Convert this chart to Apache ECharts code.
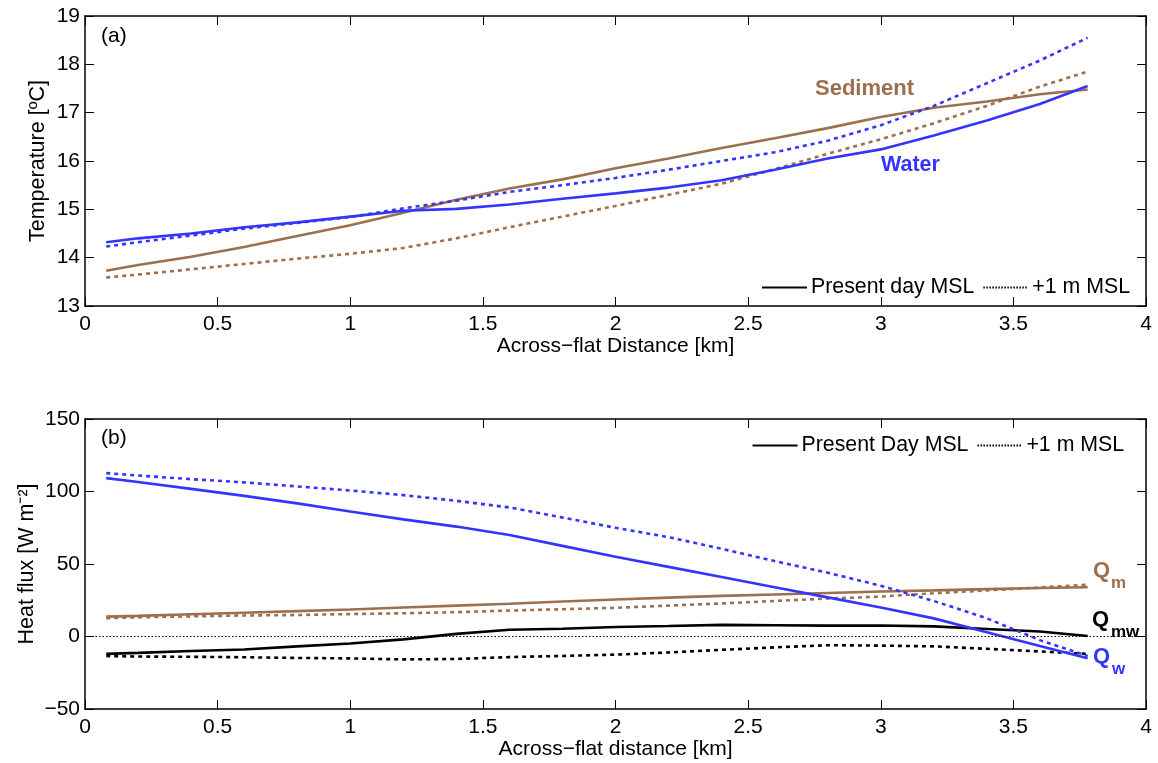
<!DOCTYPE html>
<html><head><meta charset="utf-8">
<script src="https://cdn.jsdelivr.net/npm/echarts@6/dist/echarts.min.js"></script>
<style>html,body{margin:0;padding:0;background:#fff}#c{width:1158px;height:763px}</style>
</head><body><div id="c"></div>
<script>
const dist = [0.08,0.2,0.4,0.6,0.8,1.0,1.2,1.4,1.6,1.8,2.0,2.2,2.4,2.6,2.8,3.0,3.2,3.4,3.6,3.78];
// Panel (a) temperatures [°C]
const waterPresent = [14.32,14.4,14.5,14.63,14.73,14.85,14.97,15.01,15.1,15.22,15.33,15.45,15.6,15.82,16.05,16.24,16.53,16.84,17.18,17.55];
const waterPlus1 = [14.23,14.32,14.46,14.6,14.72,14.84,15.02,15.18,15.36,15.5,15.65,15.82,16.0,16.18,16.42,16.74,17.14,17.61,18.08,18.55];
const sedPresent = [13.73,13.85,14.02,14.22,14.45,14.67,14.93,15.2,15.43,15.62,15.85,16.05,16.27,16.47,16.68,16.91,17.1,17.23,17.38,17.48];
const sedPlus1 = [13.59,13.65,13.76,13.87,13.98,14.08,14.2,14.4,14.63,14.85,15.07,15.3,15.53,15.83,16.15,16.45,16.78,17.14,17.54,17.85];
// Panel (b) heat flux [W m-2]
const qwPresent = [109.2,106.5,101.8,97,91.8,86.2,80.8,75.8,70,62.5,55,48,41,34,27,20,12.5,3,-6.5,-15];
const qwPlus1 = [112.7,111,108.5,106.3,103.5,100.7,97.5,93.6,89,82,75,68.5,60.5,52,44,35,24.5,12.5,-2.5,-13.5];
const qmPresent = [13.7,14.2,15.3,16.4,17.5,18.6,20,21.3,22.6,24.1,25.5,26.8,28,29,30,31,31.8,32.7,33.5,34];
const qmPlus1 = [12.6,13.2,13.9,14.5,14.8,15.5,16,16.8,17.9,18.8,19.8,21.3,22.8,24.5,26.2,27.5,29.8,31.8,33.8,35.8];
const qmwPresent = [-12,-11.3,-10,-9,-6.8,-4.8,-2,1.8,4.7,5.3,6.6,7.2,8,7.8,7.5,7.6,7,5.2,3.5,0.3];
const qmwPlus1 = [-13.5,-13.8,-14,-14.3,-14.8,-15.1,-15.8,-15.5,-14.2,-13.4,-12.5,-11,-9.2,-7.5,-6,-6.3,-6.8,-8.5,-10.3,-12];

const BROWN = '#9c6f4f', BLUE = '#3434ff', FONT = 'Liberation Sans, Arial, sans-serif';
const pair = a => dist.map((x,i)=>[x,a[i]]);
const DOT = [4,4];

function xAx(gi, pos, name, gap){
  return {type:'value', gridIndex:gi, position:pos, min:0, max:4, interval:0.5,
    name: name||'', nameLocation:'middle', nameGap:gap||28,
    nameTextStyle:{fontFamily:FONT, fontSize:21, color:'#000'},
    axisLine:{show:true, onZero:false, lineStyle:{color:'#000', width:1.5}},
    axisTick:{show:true, inside:true, length:9, lineStyle:{color:'#000', width:1}},
    axisLabel:{show:pos==='bottom', fontFamily:FONT, fontSize:21, color:'#000', margin:8,
      formatter: v => String(v)},
    splitLine:{show:false}};
}
function yAx(gi, pos, min, max, iv, name, gap){
  return {type:'value', gridIndex:gi, position:pos, min:min, max:max, interval:iv,
    name: name||'', nameLocation:'middle', nameGap:gap||30, nameRotate:90, nameMoveOverlap:false,
    nameTextStyle:{fontFamily:FONT, fontSize:21.5, color:'#000'},
    axisLine:{show:true, onZero:false, lineStyle:{color:'#000', width:1.5}},
    axisTick:{show:true, inside:true, length:9, lineStyle:{color:'#000', width:1}},
    axisLabel:{show:pos==='left', fontFamily:FONT, fontSize:21, color:'#000', margin:5,
      formatter: v => String(v).replace('-', '\u2212')},
    splitLine:{show:false}};
}
function ser(name, data, color, dotted, xi, yi, extra){
  return Object.assign({type:'line', name:name, xAxisIndex:xi, yAxisIndex:yi, data:pair(data),
    showSymbol:false, symbol:'none', silent:true, animation:false,
    lineStyle:{color:color, width:2.6, type: dotted?DOT:'solid'}, itemStyle:{color:color}}, extra||{});
}
function legSer(name, dotted, xi, yi){
  return {type:'line', name:name, xAxisIndex:xi, yAxisIndex:yi, data:[], symbol:'none', animation:false,
    lineStyle:{color:'#000', width:1, type: dotted?[1.5,1.5]:'solid'}, itemStyle:{color:'#000'}};
}
const legendBase = {itemWidth:45, itemHeight:14, itemGap:8,
  itemStyle:{color:'rgba(0,0,0,0)', borderWidth:0, opacity:0},
  textStyle:{fontFamily:FONT, fontSize:21.3, color:'#000', padding:[0,0,0,-1]}, selectedMode:false};

const chart = echarts.init(document.getElementById('c'), null, {renderer:'canvas'});
chart.setOption({
  backgroundColor:'#fff',
  animation:false,
  grid:[{left:85, right:12, top:16, height:290},{left:85, right:12, top:419, height:290}],
  xAxis:[xAx(0,'bottom','Across\u2212flat Distance [km]',30), xAx(0,'top'), xAx(1,'bottom','Across\u2212flat distance [km]',28), xAx(1,'top')],
  yAxis:[yAx(0,'left',13,19,1,'Temperature [\u00baC]',36), yAx(0,'right',13,19,1), yAx(1,'left',-50,150,50,'Heat flux [W m\u207B\u00B2]',47), yAx(1,'right',-50,150,50)],
  legend:[
    Object.assign({data:['Present day MSL','+1 m MSL'], right:23, top:272}, legendBase),
    Object.assign({data:['Present Day MSL','+1 m MSL '], right:23, top:430}, legendBase)
  ],
  series:[
    ser('Sediment present', sedPresent, BROWN, false, 0, 0),
    ser('Sediment +1', sedPlus1, BROWN, true, 0, 0),
    ser('Water present', waterPresent, BLUE, false, 0, 0),
    ser('Water +1', waterPlus1, BLUE, true, 0, 0),
    ser('Qm present', qmPresent, BROWN, false, 2, 2),
    ser('Qm +1', qmPlus1, BROWN, true, 2, 2),
    ser('Qmw +1', qmwPlus1, '#000', true, 2, 2),
    ser('Qmw present', qmwPresent, '#000', false, 2, 2, {
      markLine:{silent:true, symbol:'none', label:{show:false},
        lineStyle:{color:'#000', width:1, type:[1.5,2]}, data:[{yAxis:0}]}}),
    ser('Qw +1', qwPlus1, BLUE, true, 2, 2),
    ser('Qw present', qwPresent, BLUE, false, 2, 2),
    legSer('Present day MSL', false, 0, 0),
    legSer('+1 m MSL', true, 0, 0),
    legSer('Present Day MSL', false, 2, 2),
    legSer('+1 m MSL ', true, 2, 2)
  ],
  graphic:[
    {type:'text', left:101, top:26, style:{text:'(a)', font:'21px '+FONT, fill:'#000'}},
    {type:'text', left:101, top:428, style:{text:'(b)', font:'21px '+FONT, fill:'#000'}},
    {type:'text', left:815, top:78, style:{text:'Sediment', font:'bold 22px '+FONT, fill:BROWN}},
    {type:'text', left:881, top:154, style:{text:'Water', font:'bold 21.5px '+FONT, fill:BLUE}},
    {type:'text', left:1093, top:560, style:{text:'Q', font:'bold 22px '+FONT, fill:BROWN}},
    {type:'text', left:1111, top:575, style:{text:'m', font:'bold 17px '+FONT, fill:BROWN}},
    {type:'text', left:1092, top:609, style:{text:'Q', font:'bold 22px '+FONT, fill:'#000'}},
    {type:'text', left:1111, top:624, style:{text:'mw', font:'bold 17px '+FONT, fill:'#000'}},
    {type:'text', left:1093, top:646, style:{text:'Q', font:'bold 22px '+FONT, fill:BLUE}},
    {type:'text', left:1112, top:661, style:{text:'w', font:'bold 17px '+FONT, fill:BLUE}}
  ]
});
</script></body></html>
